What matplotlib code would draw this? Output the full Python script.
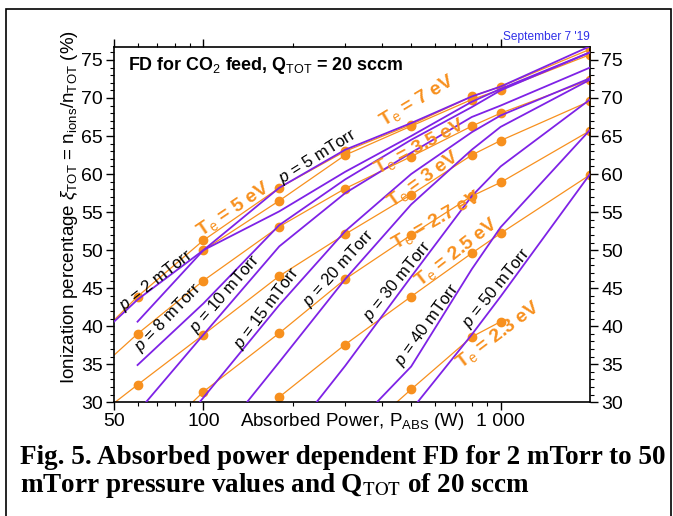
import matplotlib
matplotlib.use("Agg")
import matplotlib.pyplot as plt
from matplotlib.ticker import FixedLocator, NullFormatter, MultipleLocator
from matplotlib.patches import Rectangle

plt.rcParams['font.family'] = ['Liberation Sans', 'DejaVu Sans']
plt.rcParams['mathtext.fontset'] = 'custom'
plt.rcParams['mathtext.rm'] = 'Liberation Sans'
plt.rcParams['mathtext.it'] = 'Liberation Sans:italic'
plt.rcParams['mathtext.bf'] = 'Liberation Sans:bold'

PURPLE = '#7E22E6'
ORANGE = '#F7901E'

# constant electron temperature lines (absorbed power W, ionization %)
te_labels = ['7', '5', '3.5', '3', '2.7', '2.5', '2.3']
te_power = [
    [100, 180, 300, 500, 800, 1000, 2000],
    [50, 60, 100, 180, 300, 500, 800, 1000, 2000],
    [50, 60, 100, 180, 300, 500, 800, 1000, 2000],
    [50, 60, 100, 180, 300, 500, 800, 1000, 2000],
    [60, 100, 180, 300, 500, 800, 1000, 2000],
    [180, 300, 500, 800, 1000, 2000],
    [300, 500, 800, 1000],
]
te_ion = [
    [50.0, 56.5, 62.5, 66.3, 69.8, 71.1, 75.7],
    [40.8, 43.9, 51.3, 58.2, 63.0, 66.5, 70.2, 71.5, 76.4],
    [36.2, 39.0, 46.0, 53.1, 58.1, 62.3, 66.3, 68.0, 72.4],
    [29.9, 32.3, 38.9, 46.6, 52.1, 57.3, 62.5, 64.4, 69.6],
    [23.0, 31.4, 39.1, 46.2, 52.0, 57.1, 58.9, 65.7],
    [30.7, 37.6, 43.9, 49.6, 52.2, 59.9],
    [24.0, 31.7, 38.6, 40.6],
]

# constant pressure lines (mTorr)
p_labels = ['2', '5', '8', '10', '15', '20', '30', '40', '50']
p_power = [
    [50, 60, 100, 180, 300, 500, 800, 1000, 2000],
    [60, 100, 180, 300, 500, 800, 1000, 2000],
    [60, 100, 180, 300, 500, 800, 1000, 2000],
    [64, 100, 180, 300, 500, 800, 1000, 2000],
    [97, 180, 300, 500, 800, 1000, 2000],
    [140, 180, 300, 500, 800, 1000, 2000],
    [240, 300, 500, 800, 1000, 2000],
    [383, 500, 800, 1000, 2000],
    [525, 800, 1000, 2000],
]
p_ion = [
    [40.6, 43.5, 50.0, 55.1, 60.3, 65.0, 69.5, 71.2, 76.0],
    [40.6, 50.0, 58.2, 63.2, 66.7, 70.2, 71.5, 76.8],
    [34.9, 43.0, 53.3, 59.3, 64.5, 68.8, 71.0, 76.0],
    [30.0, 38.9, 50.5, 57.5, 62.8, 67.5, 69.0, 74.0],
    [30.0, 42.8, 52.5, 60.0, 65.5, 67.7, 72.6],
    [30.0, 35.3, 46.2, 56.0, 63.2, 66.2, 72.4],
    [30.0, 34.8, 46.5, 57.1, 61.0, 69.8],
    [30.0, 34.7, 47.5, 53.0, 65.8],
    [30.0, 38.9, 43.9, 60.0],
]

fig = plt.figure(figsize=(6.73, 5.16), dpi=100)
ax = fig.add_axes([0.1694, 0.2203, 0.7073, 0.6886])

for xs, ys in zip(te_power, te_ion):
    marks = [i for i, x in enumerate(xs) if x > 50]
    ax.plot(xs, ys, color=ORANGE, lw=0.9, marker='o', ms=6,
            markevery=marks, mec=ORANGE, mfc=ORANGE, zorder=2)
for xs, ys in zip(p_power, p_ion):
    ax.plot(xs, ys, color=PURPLE, lw=1.3, zorder=3)

ax.set_xscale('log')
ax.set_xlim(50, 2000)
ax.set_ylim(30, 76.7)

ax.xaxis.set_major_locator(FixedLocator([50, 100, 1000]))
ax.set_xticklabels(['50', '100', '1 000'])
ax.xaxis.set_minor_locator(FixedLocator([60, 70, 80, 90, 200, 300, 400, 500,
                                         600, 700, 800, 900]))
ax.xaxis.set_minor_formatter(NullFormatter())
ax.yaxis.set_major_locator(MultipleLocator(5))
ax.yaxis.set_minor_locator(MultipleLocator(1))
ax.tick_params(which='both', direction='out', top=True, right=True,
               labelright=True, labelsize=14, pad=2)
ax.tick_params(which='major', length=6, width=1)
ax.tick_params(which='minor', length=3, width=0.8)
for s in ax.spines.values():
    s.set_linewidth(1.2)

ax.set_xlabel('Absorbed Power, P$_{\\mathrm{ABS}}$ (W)', fontsize=13.5, labelpad=-14)
ax.set_ylabel('Ionization percentage $\\mathit{ξ}_{\\mathrm{TOT}}$ = n$_{\\mathrm{ions}}$/n$_{\\mathrm{TOT}}$ (%)',
              fontsize=13.5)
ax.yaxis.set_label_coords(-0.072, 0.55)

ax.text(0.03, 0.947, 'FD for CO$_{2}$ feed, Q$_{\\mathrm{TOT}}$ = 20 sccm',
        transform=ax.transAxes, fontsize=12.9, fontweight='bold', va='center')
ax.text(1.0, 1.012, "September 7 '19", transform=ax.transAxes, fontsize=8.6,
        color='#3030E8', ha='right', va='bottom')

# pressure labels (power, ionization, angle)
p_lab_x = [69, 243, 76, 118, 164, 285, 448, 565, 971]
p_lab_y = [46.1, 62.3, 41.2, 44.3, 42.4, 47.6, 45.9, 40.2, 45.0]
p_lab_rot = [38, 32, 46, 49, 53, 48, 51, 54, 51]
for lab, x, y, r in zip(p_labels, p_lab_x, p_lab_y, p_lab_rot):
    ax.text(x, y, '$\\mathit{p}$ = ' + lab + ' mTorr', rotation=r, fontsize=12,
            ha='center', va='center', rotation_mode='anchor', zorder=5)

# temperature labels
te_lab_x = [522, 126, 533, 549, 609, 713, 984]
te_lab_y = [69.6, 55.4, 63.6, 59.3, 54.0, 49.8, 38.9]
te_lab_rot = [31, 34, 28, 36, 30, 38, 37]
for lab, x, y, r in zip(te_labels, te_lab_x, te_lab_y, te_lab_rot):
    ax.text(x, y, 'T$_{\\mathrm{e}}$ = ' + lab + ' eV', rotation=r, fontsize=14,
            fontweight='bold', color=ORANGE, ha='center', va='center',
            rotation_mode='anchor', zorder=5)

fig.text(0.03, 0.138, 'Fig. 5. Absorbed power dependent FD for 2 mTorr to 50\n'
         'mTorr pressure values and Q$_{\\mathrm{TOT}}$ of 20 sccm',
         family='Liberation Serif', fontsize=19.5, fontweight='bold',
         va='top', ha='left', linespacing=1.05,
         math_fontfamily='stix')

fig.patches.append(Rectangle((6 / 673, -0.01), 665 / 673, 1 - 9 / 516 + 0.01,
                             transform=fig.transFigure, fill=False,
                             edgecolor='black', lw=1.2))

fig.savefig('out.png', dpi=100)
